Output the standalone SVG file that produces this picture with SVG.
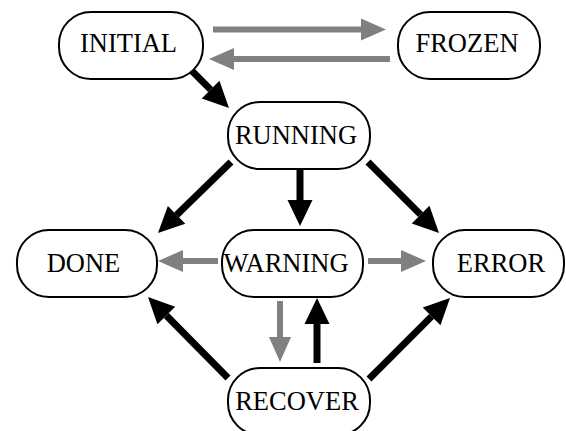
<svg xmlns="http://www.w3.org/2000/svg" width="566" height="431" viewBox="0 0 566 431">
<style>
.node rect{fill:#fff;stroke:#000;stroke-width:2}
.node text{font-family:"Liberation Serif","Times New Roman",serif;font-size:26.5px;fill:#000;text-anchor:middle}
.blk{stroke:#000;stroke-width:7;fill:none}
.gry{stroke:#808080;stroke-width:6;fill:none}
</style>
<defs>
<marker id="hb" markerUnits="userSpaceOnUse" markerWidth="27" markerHeight="26" refX="0" refY="12.5" orient="auto" overflow="visible">
<path d="M0,0 L26,12.5 L0,25 Z" fill="#000"/>
</marker>
<marker id="hg" markerUnits="userSpaceOnUse" markerWidth="26" markerHeight="24" refX="0" refY="11" orient="auto" overflow="visible">
<path d="M0,0 L25,11 L0,22 Z" fill="#808080"/>
</marker>
</defs>
<rect width="566" height="431" fill="#fff"/>
<g id="connectors">
<line class="gry" x1="213" y1="29.5" x2="361" y2="29.5" marker-end="url(#hg)"/>
<line class="gry" x1="390" y1="59" x2="234" y2="59" marker-end="url(#hg)"/>
<line class="blk" x1="190" y1="69" x2="210.6" y2="89.6" marker-end="url(#hb)"/>
<line class="blk" x1="231" y1="162" x2="176.6" y2="214.9" marker-end="url(#hb)"/>
<line class="blk" x1="300" y1="169" x2="300" y2="200" marker-end="url(#hb)"/>
<line class="blk" x1="368" y1="162" x2="420.6" y2="214.6" marker-end="url(#hb)"/>
<line class="gry" x1="218" y1="261" x2="183" y2="261" marker-end="url(#hg)"/>
<line class="gry" x1="368" y1="261" x2="401" y2="261" marker-end="url(#hg)"/>
<line class="gry" x1="280" y1="301" x2="280" y2="337" marker-end="url(#hg)"/>
<line class="blk" x1="317" y1="363" x2="317" y2="324" marker-end="url(#hb)"/>
<line class="blk" x1="228" y1="378" x2="166.3" y2="315.5" marker-end="url(#hb)"/>
<line class="blk" x1="369" y1="379" x2="431.6" y2="316.4" marker-end="url(#hb)"/>
</g>
<g id="INITIAL" class="node"><rect x="59" y="12" width="144" height="67" rx="32" ry="32"/><text x="128.5" y="52">INITIAL</text></g>
<g id="FROZEN" class="node"><rect x="398" y="12" width="142" height="67" rx="32" ry="32"/><text x="467" y="51.5">FROZEN</text></g>
<g id="RUNNING" class="node"><rect x="228" y="102" width="142" height="67" rx="32" ry="32"/><text x="296" y="144">RUNNING</text></g>
<g id="DONE" class="node"><rect x="17" y="230" width="140" height="67" rx="32" ry="32"/><text x="83.5" y="272">DONE</text></g>
<g id="WARNING" class="node"><rect x="222" y="230" width="141" height="67" rx="32" ry="32"/><text x="286" y="271.5">WARNING</text></g>
<g id="ERROR" class="node"><rect x="433" y="230" width="131" height="67" rx="32" ry="32"/><text x="501" y="272">ERROR</text></g>
<g id="RECOVER" class="node"><rect x="228" y="368" width="142" height="67" rx="32" ry="32"/><text x="297" y="410">RECOVER</text></g>
</svg>
